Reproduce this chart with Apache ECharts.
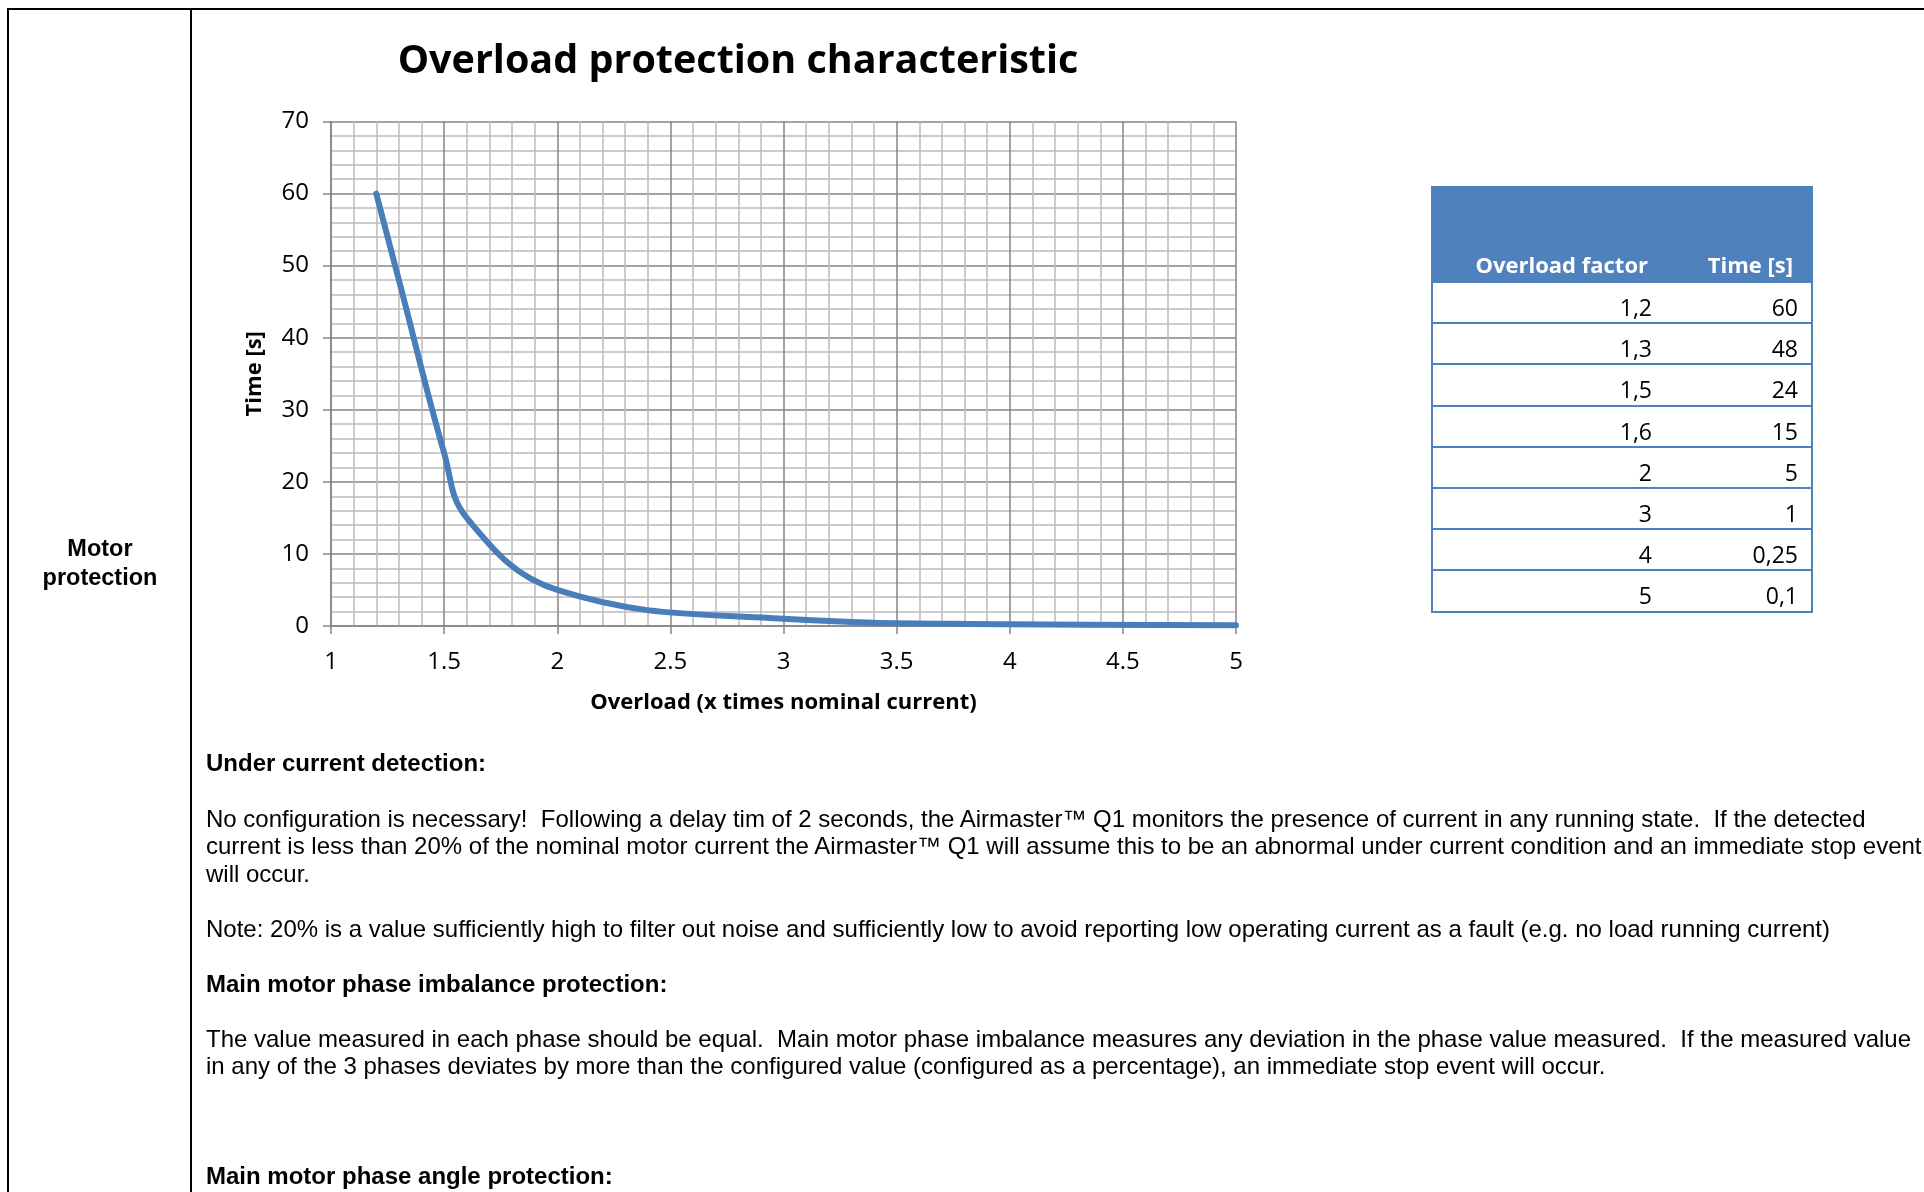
<!DOCTYPE html>
<html lang="en">
<head>
    <meta charset="UTF-8">
    <title>Overload protection characteristic</title>
    <script src="https://cdnjs.cloudflare.com/ajax/libs/echarts/6.0.0/echarts.min.js"></script>
    <style>
        body { margin: 0; width: 1924px; height: 1192px; overflow: hidden; background: #fff; position: relative; }
        #chart { position: absolute; left: 0; top: 0; width: 1924px; height: 1192px; }
        .rule { position: absolute; background: #000; z-index: 2; }
        .side { position: absolute; left: 10px; width: 180px; top: 534px; text-align: center;
                font: bold 23.5px "Liberation Sans", Arial, sans-serif; line-height: 28.5px; z-index: 2; }
        .txt { position: absolute; left: 206px; font: 24px "Liberation Sans", Arial, sans-serif;
               line-height: 27.6px; white-space: pre; z-index: 2; }
        .txt b { font-weight: bold; }
        #tbl { position: absolute; left: 1431px; top: 186px; width: 382px; z-index: 2;
               font-family: "Open Sans", sans-serif; }
        #tbl .head { height: 97px; background: #4f81bd; position: relative; }
        #tbl .row { height: 41.2px; box-sizing: border-box; border-left: 2px solid #4f81bd;
                    border-right: 2px solid #4f81bd; border-bottom: 2px solid #4f81bd; position: relative; }
        #tbl span { position: absolute; white-space: nowrap; }
    </style>
</head>
<body>
<div id="chart"></div>

<div class="rule" style="left:8px; top:8px; width:1916px; height:2px;"></div>
<div class="rule" style="left:7px; top:8px; width:2px; height:1184px;"></div>
<div class="rule" style="left:190px; top:8px; width:2px; height:1184px;"></div>

<div class="side">Motor<br>protection</div>

<div class="txt" style="top:748.5px;"><b>Under current detection:</b></div>
<div class="txt" style="top:804.5px;">No configuration is necessary!  Following a delay tim of 2 seconds, the Airmaster™ Q1 monitors the presence of current in any running state.  If the detected
current is less than 20% of the nominal motor current the Airmaster™ Q1 will assume this to be an abnormal under current condition and an immediate stop event
will occur.</div>
<div class="txt" style="top:914.5px;">Note: 20% is a value sufficiently high to filter out noise and sufficiently low to avoid reporting low operating current as a fault (e.g. no load running current)</div>
<div class="txt" style="top:969.5px;"><b>Main motor phase imbalance protection:</b></div>
<div class="txt" style="top:1024.5px;">The value measured in each phase should be equal.  Main motor phase imbalance measures any deviation in the phase value measured.  If the measured value
in any of the 3 phases deviates by more than the configured value (configured as a percentage), an immediate stop event will occur.</div>
<div class="txt" style="top:1161.5px;"><b>Main motor phase angle protection:</b></div>

<div id="tbl"></div>

<script>
    // values from the table next to the chart
    var overloadFactor = [1.2, 1.3, 1.5, 1.6, 2, 3, 4, 5];
    var tripTime = [60, 48, 24, 15, 5, 1, 0.25, 0.1];
    var tableHeader = ['Overload factor', 'Time [s]'];

    function fmt(v) {
        return String(v).replace('.', ',');
    }

    // table
    var tbl = document.getElementById('tbl');
    var html = '<div class="head">' +
        '<span style="right:165px; bottom:-2px; line-height:41px; font-size:22px; font-weight:bold; color:#fff;">' + tableHeader[0] + '</span>' +
        '<span style="right:20px; bottom:-2px; line-height:41px; font-size:22px; font-weight:bold; color:#fff;">' + tableHeader[1] + '</span>' +
        '</div>';
    for (var i = 0; i < overloadFactor.length; i++) {
        html += '<div class="row">' +
            '<span style="right:159px; top:4px; line-height:41px; font-size:23px;">' + fmt(overloadFactor[i]) + '</span>' +
            '<span style="right:13px; top:4px; line-height:41px; font-size:23px;">' + fmt(tripTime[i]) + '</span>' +
            '</div>';
    }
    tbl.innerHTML = html;

    var chart = echarts.init(document.getElementById('chart'));

    var gridMajor = '#858585';
    var gridMinor = '#bcbcbc';
    var font = '"Open Sans", sans-serif';

    var option = {
        animation: false,
        title: {
            text: 'Overload protection characteristic',
            left: 733,
            top: 37,
            textAlign: 'center',
            textStyle: {fontFamily: font, fontSize: 39.5, fontWeight: 'bold', color: '#000'}
        },
        grid: {left: 331, top: 121.5, right: 688, bottom: 566, outerBoundsMode: 'none'},
        xAxis: {
            type: 'value',
            min: 1,
            max: 5,
            interval: 0.5,
            name: 'Overload (x times nominal current)',
            nameLocation: 'middle',
            nameGap: 66,
            nameTextStyle: {fontFamily: font, fontSize: 22, fontWeight: 'bold', color: '#000'},
            axisLine: {show: true, onZero: false, lineStyle: {color: gridMajor, width: 1.5}},
            axisTick: {show: true, length: 8, lineStyle: {color: gridMajor, width: 1.5}},
            axisLabel: {fontFamily: font, fontSize: 24, color: '#000', margin: 24},
            splitLine: {show: true, lineStyle: {color: gridMajor, width: 1.5}},
            minorTick: {show: false, splitNumber: 5},
            minorSplitLine: {show: true, lineStyle: {color: gridMinor, width: 1.5}}
        },
        yAxis: {
            type: 'value',
            min: 0,
            max: 70,
            interval: 10,
            name: 'Time [s]',
            nameLocation: 'middle',
            nameGap: 65,
            nameTextStyle: {fontFamily: font, fontSize: 22, fontWeight: 'bold', color: '#000'},
            axisLine: {show: true, lineStyle: {color: gridMajor, width: 1.5}},
            axisTick: {show: true, length: 8, lineStyle: {color: gridMajor, width: 1.5}},
            axisLabel: {fontFamily: font, fontSize: 24, color: '#000', margin: 22},
            splitLine: {show: true, lineStyle: {color: gridMajor, width: 1.5}},
            minorTick: {show: false, splitNumber: 5},
            minorSplitLine: {show: true, lineStyle: {color: gridMinor, width: 1.5}}
        },
        series: [{
            type: 'line',
            data: overloadFactor.map(function (x, i) { return [x, tripTime[i]]; }),
            smooth: 0.4,
            symbol: 'none',
            lineStyle: {color: '#4a7ebb', width: 6, cap: 'round', join: 'round'}
        }]
    };

    chart.setOption(option);
</script>
</body>
</html>
